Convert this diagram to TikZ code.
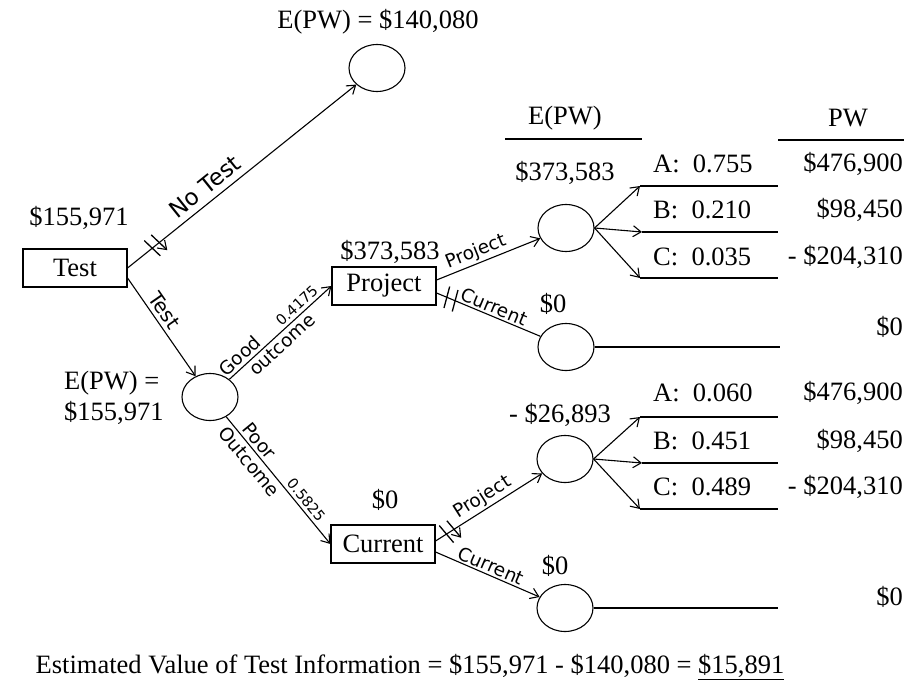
\documentclass[tikz,border=0pt]{standalone}
\usepackage{fontspec}
\setmainfont{Liberation Serif}
\newfontfamily\hand{DejaVu Sans}
\usetikzlibrary{arrows.meta,shapes.geometric,decorations.markings,calc}
\begin{document}
\begin{tikzpicture}[x=1pt,y=-1pt,
  txt/.style={font=\fontsize{26.5}{31}\selectfont, inner sep=0pt},
  box/.style={draw, line width=1.1pt, rectangle, minimum width=104pt, minimum height=38pt, inner sep=0pt, font=\fontsize{26.5}{28}\selectfont},
  chance/.style={draw, line width=1.1pt, ellipse, minimum width=56pt, minimum height=47pt, inner sep=0pt},
  ln/.style={line width=1.1pt},
  br/.style={line width=1.1pt, -{Straight Barb[length=8pt,width=11pt,line width=1.1pt]}},
  hl/.style={font=\hand\fontsize{18.5}{20}\selectfont, inner sep=1pt},
  hbig/.style={font=\hand\fontsize{23}{25}\selectfont, inner sep=1pt},
  hsmall/.style={font=\hand\fontsize{14.5}{16}\selectfont, inner sep=1pt},
  blocked/.style={postaction={decorate, decoration={markings, mark=at position #1 with {\draw[line width=1.3pt] (-5,-11)--(-2,11) (4,-11)--(7,11);}}}}
]
\path[use as bounding box] (0,0) rectangle (904,690);

% decision and chance nodes
\node[box] (test) at (75,268) {Test};
\node[txt] (vtest) at (79,218) {\$155,971};
\node[chance] (nt) at (377,68) {};
\node[txt] (ntv) at (378,22) {E(PW) = \$140,080};
\node[chance] (c1) at (210,397) {};
\node[txt, align=left, anchor=west] (c1v) at (64,398) {E(PW) =\\\$155,971};
\node[box] (proj) at (384,286) {Project};
\node[txt] (projv) at (390,252) {\$373,583};
\node[box] (cur) at (383,544) {Current};
\node[txt] (curv) at (385,500) {\$0};
\node[chance] (c2) at (566,228) {};
\node[txt] (c2v) at (565,173) {\$373,583};
\node[chance] (c3) at (566,347) {};
\node[txt] (c3v) at (553,304) {\$0};
\node[chance] (c4) at (565,459) {};
\node[txt] (c4v) at (560,415) {- \$26,893};
\node[chance] (c5) at (565,608) {};
\node[txt] (c5v) at (555,566) {\$0};

% headers
\node[txt] (h1) at (565,118) {E(PW)};
\node[txt] (h2) at (848,118) {PW};
\coordinate (h1a) at (505,139); \coordinate (h1b) at (642,139);
\coordinate (h2a) at (778,140); \coordinate (h2b) at (904,140);
\draw[ln] (h1a) -- (h1b);
\draw[ln] (h2a) -- (h2b);

% main branches
\draw[br, blocked=0.12] (test.east) -- node[hbig, pos=0.38, above=5pt, sloped] {No Test} (nt);
\draw[br] ([yshift=-10pt]test.east) -- node[hl, font=\hand\fontsize{20}{22}\selectfont, pos=0.4, above=3pt, sloped] {Test} (c1);
\draw[br] (c1) -- node[hl, pos=0.17, above=2pt, sloped] {Good}
                 node[hl, pos=0.45, below=2pt, sloped] {outcome}
                 node[hsmall, pos=0.72, above=2pt, sloped] {0.4175} (proj.west);
\draw[br] (c1) -- node[hl, pos=0.24, above=2pt, sloped] {Poor}
                 node[hl, pos=0.3, below=2pt, sloped] {Outcome}
                 node[hsmall, pos=0.7, above=2pt, sloped] {0.5825} (cur.west);

% second-level branches
\draw[br] ([yshift=6pt]proj.east) -- node[hl, pos=0.42, above=1pt, sloped] {Project} (c2);
\draw[ln, blocked=0.13] ([yshift=-7pt]proj.east) -- node[hl, pos=0.52, above=1pt, sloped] {Current} (c3);
\draw[br, blocked=0.13] ([yshift=3pt]cur.east) -- node[hl, pos=0.5, above=1pt, sloped] {Project} (c4);
\draw[br] ([yshift=-8pt]cur.east) -- node[hl, pos=0.5, above=1pt, sloped] {Current} (c5);

% outcome branches, upper
\coordinate (a1) at (640,186); \coordinate (a1e) at (778,186);
\coordinate (b1) at (642,232); \coordinate (b1e) at (778,232);
\coordinate (k1) at (640,278); \coordinate (k1e) at (778,278);
\draw[br] (c2.east) -- (a1); \draw[ln] (a1) -- (a1e);
\draw[br] (c2.east) -- (b1); \draw[ln] (b1) -- (b1e);
\draw[br] (c2.east) -- (k1); \draw[ln] (k1) -- (k1e);
\coordinate (d1e) at (780,347);
\draw[ln] (c3.east) -- (d1e);

% outcome branches, lower
\coordinate (a2) at (640,417); \coordinate (a2e) at (778,417);
\coordinate (b2) at (642,463); \coordinate (b2e) at (778,463);
\coordinate (k2) at (640,509); \coordinate (k2e) at (778,509);
\draw[br] (c4.east) -- (a2); \draw[ln] (a2) -- (a2e);
\draw[br] (c4.east) -- (b2); \draw[ln] (b2) -- (b2e);
\draw[br] (c4.east) -- (k2); \draw[ln] (k2) -- (k2e);
\coordinate (d2e) at (778,608);
\draw[ln] (c5.east) -- (d2e);

% probabilities
\node[txt, anchor=west] (pa1) at (653,164) {A:~~0.755};
\node[txt, anchor=west] (pb1) at (653,210) {B:~~0.210};
\node[txt, anchor=west] (pc1) at (653,257) {C:~~0.035};
\node[txt, anchor=west] (pa2) at (653,393) {A:~~0.060};
\node[txt, anchor=west] (pb2) at (653,441) {B:~~0.451};
\node[txt, anchor=west] (pc2) at (653,487) {C:~~0.489};

% PW values
\node[txt, anchor=east] (wa1) at (903,164) {\$476,900};
\node[txt, anchor=east] (wb1) at (903,210) {\$98,450};
\node[txt, anchor=east] (wc1) at (903,257) {- \$204,310};
\node[txt, anchor=east] (wd1) at (903,327) {\$0};
\node[txt, anchor=east] (wa2) at (903,393) {\$476,900};
\node[txt, anchor=east] (wb2) at (903,441) {\$98,450};
\node[txt, anchor=east] (wc2) at (903,487) {- \$204,310};
\node[txt, anchor=east] (wd2) at (903,597) {\$0};

% summary
\node[txt] (est) at (410,667) {Estimated Value of Test Information = \$155,971 - \$140,080 = \underline{\$15,891}};
\end{tikzpicture}
\end{document}
